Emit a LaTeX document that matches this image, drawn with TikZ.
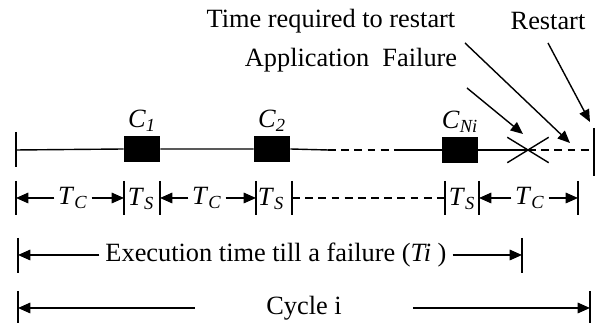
\documentclass[tikz,border=0pt]{standalone}
\usepackage{fontspec}
\setmainfont{Liberation Serif}
\usetikzlibrary{arrows.meta,positioning,shapes.misc}
\newcommand{\tsub}[2]{\textit{#1}\textsubscript{\textit{#2}}}

\begin{document}
\begin{tikzpicture}[
            x=0.02cm, y=-0.02cm,
            font=\fontsize{15}{18}\selectfont,
            line/.style={line width=0.8pt},
            dashline/.style={line width=0.8pt, dash pattern=on 4.5pt off 3pt},
            tick/.style={line width=1.1pt},
            ckpt/.style={rectangle, fill=black, minimum width=0.72cm, minimum height=0.52cm, inner sep=0pt},
            lbl/.style={inner sep=2pt},
            arrow/.style={-{Triangle[length=7pt, width=6pt]}, line width=0.8pt}
        ]
            \useasboundingbox (0,0) rectangle (600,323);

            % --- TIMELINE ---
            \coordinate (start) at (16,150);
            \coordinate (stop) at (594,150);
            \node[ckpt] (c1) at (142,149) {};
            \node[ckpt] (c2) at (272,149) {};
            \node[ckpt] (cn) at (460,150) {};
            \node[cross out, draw, line width=0.8pt, minimum width=0.8cm, minimum height=0.48cm, inner sep=0pt] (fail) at (528,150) {};
            \coordinate (gapl) at (328,150);
            \coordinate (gapr) at (397,150);

            \draw[line] (start) -- (c1.west) (c1.east) -- (c2.west) (c2.east) -- (gapl);
            \draw[dashline] (gapl) -- (gapr);
            \draw[line] (gapr) -- (cn.west) (cn.east) -- (fail.center);
            \draw[dashline] (fail.center) -- (stop);
            \draw[tick] (16,132) -- (16,167);
            \draw[tick] (594,128) -- (594,176);

            \node[lbl, above=0pt of c1] (c1lbl) {\tsub{C}{1}};
            \node[lbl, above=0pt of c2] (c2lbl) {\tsub{C}{2}};
            \node[lbl, above=0pt of cn] (cnlbl) {\tsub{C}{Ni}};

            % --- EVENTS ---
            \node (timereq) at (331,21) {Time required to restart};
            \node (restart) at (548,21) {Restart};
            \node (appfail) at (351,60) {Application~ Failure};

            \coordinate (appfailfrom) at (467,88);
            \coordinate (appfailto) at (523,134);
            \coordinate (timereqfrom) at (465,43);
            \coordinate (timereqto) at (570,143);
            \coordinate (restartfrom) at (548,43);
            \coordinate (restartto) at (590,122);
            \draw[arrow] (appfailfrom) -- (appfailto);
            \draw[arrow] (timereqfrom) -- (timereqto);
            \draw[arrow] (restartfrom) -- (restartto);

            % --- INTERVALS ---
            \foreach \x/\n in {16/a,124/b,160/c,256/d,292/e,445/f,479/g,578/h} {
                \draw[tick] (\x,181) -- (\x,215);
                \coordinate (t\n) at (\x,198);
            }
            \node[lbl] (tc1) at (73,198) {\tsub{T}{C}};
            \node[lbl] (ts1) at (141,199) {\tsub{T}{S}};
            \node[lbl] (tc2) at (207,198) {\tsub{T}{C}};
            \node[lbl] (ts2) at (271,199) {\tsub{T}{S}};
            \node[lbl] (ts3) at (462,199) {\tsub{T}{S}};
            \node[lbl] (tc3) at (530,198) {\tsub{T}{C}};

            \draw[arrow] (tc1) -- (ta);
            \draw[arrow] (tc1) -- (tb);
            \draw[arrow] (tc2) -- (tc);
            \draw[arrow] (tc2) -- (td);
            \draw[dashline] (te) -- (tf);
            \draw[arrow] (tc3) -- (tg);
            \draw[arrow] (tc3) -- (th);

            % --- EXECUTION ---
            \draw[tick] (18,238) -- (18,273);
            \draw[tick] (522,238) -- (522,273);
            \coordinate (execl) at (18,255);
            \coordinate (execr) at (522,255);
            \node (exec) at (276,255) {Execution time till a failure (\textit{Ti} )};
            \draw[arrow] (exec) -- (execl);
            \draw[arrow] (exec) -- (execr);

            % --- CYCLE ---
            \draw[tick] (18,291) -- (18,323);
            \draw[tick] (590,291) -- (590,323);
            \coordinate (cyclel) at (18,308);
            \coordinate (cycler) at (590,308);
            \coordinate (cyclefrom) at (195,308);
            \coordinate (cycleto) at (413,308);
            \node (cycle) at (304,308) {Cycle i};
            \draw[arrow] (cyclefrom) -- (cyclel);
            \draw[arrow] (cycleto) -- (cycler);

        \end{tikzpicture}
\end{document}
